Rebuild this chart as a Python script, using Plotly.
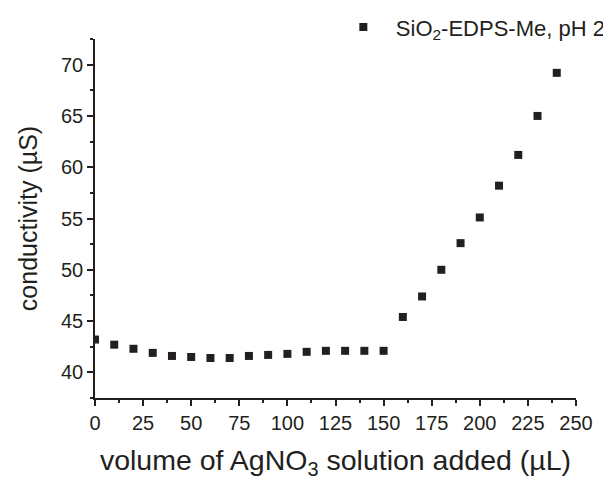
import plotly.graph_objects as go

volume = [0, 10, 20, 30, 40, 50, 60, 70, 80, 90, 100, 110, 120, 130, 140, 150,
          160, 170, 180, 190, 200, 210, 220, 230, 240]
conductivity = [43.2, 42.7, 42.3, 41.9, 41.6, 41.5, 41.4, 41.4, 41.6, 41.7, 41.8,
                42.0, 42.1, 42.1, 42.1, 42.1, 45.4, 47.4, 50.0, 52.6, 55.1, 58.2,
                61.2, 65.0, 69.2]
series_name = "SiO<sub>2</sub>-EDPS-Me, pH 2"
x_title = "volume of AgNO<sub>3</sub> solution added (µL)"
y_title = "conductivity (µS)"

FONT = "Liberation Sans, Arial, sans-serif"
INK = "#231f20"

fig = go.Figure()
fig.add_trace(go.Scatter(
    x=volume, y=conductivity, mode="markers", name=series_name,
    marker=dict(symbol="square", size=8, color=INK, line=dict(width=0)),
    cliponaxis=True, showlegend=True,
))

axis_common = dict(
    showgrid=False, zeroline=False, showline=True, linecolor=INK, linewidth=1.5,
    ticks="outside", ticklen=6, tickwidth=1.5, tickcolor=INK,
    tickfont=dict(family=FONT, size=20, color=INK),
    mirror=False, automargin=False,
)

fig.update_xaxes(
    range=[0, 250], tick0=0, dtick=25,
    minor=dict(ticks="outside", ticklen=3, tickwidth=1.5, tickcolor=INK, dtick=12.5),
    title=dict(text=x_title, font=dict(family=FONT, size=28.5, color=INK), standoff=17),
    **axis_common,
)
fig.update_yaxes(
    range=[37.5, 72.5], tick0=40, dtick=5,
    minor=dict(ticks="outside", ticklen=3, tickwidth=1.5, tickcolor=INK, dtick=2.5, tick0=37.5),
    title=dict(text=y_title, font=dict(family=FONT, size=25, color=INK), standoff=16),
    **axis_common,
)

fig.update_layout(
    width=611, height=480,
    margin=dict(l=87, r=43, t=31, b=90, autoexpand=False),
    paper_bgcolor="white", plot_bgcolor="white",
    font=dict(family=FONT, size=20, color=INK),
    legend=dict(
        x=0.4903, y=1.033, xanchor="left", yanchor="middle",
        bgcolor="rgba(0,0,0,0)", borderwidth=0,
        font=dict(family=FONT, size=22, color=INK),
        itemwidth=55,
    ),
    showlegend=True,
)

fig.write_html("out.html")
